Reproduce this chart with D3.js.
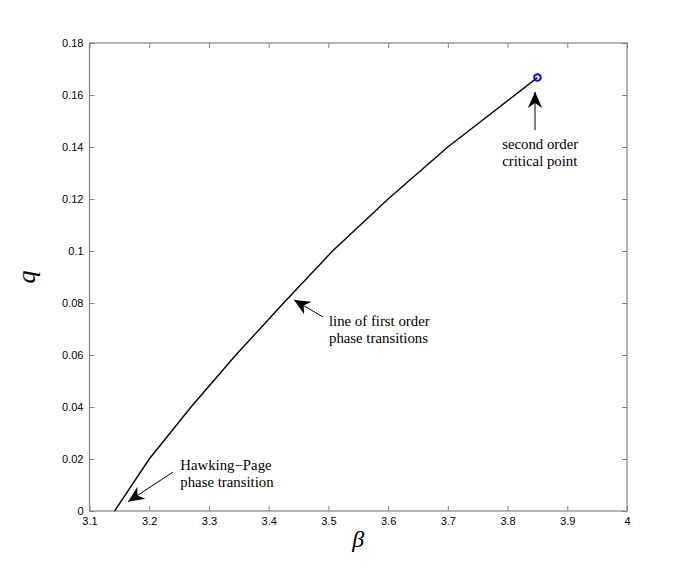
<!DOCTYPE html>
<html><head><meta charset="utf-8">
<script src="https://cdn.jsdelivr.net/npm/d3@7"></script>
<style>body{margin:0;background:#fff}</style>
</head><body>
<svg id="c" width="692" height="574"></svg>
<script>
const betaVals = [3.142, 3.2, 3.27, 3.345, 3.425, 3.507, 3.6, 3.7, 3.85];
const qVals    = [0, 0.02, 0.04, 0.06, 0.08, 0.1, 0.12, 0.14, 0.1667];
const critical = {beta: 3.85, q: 0.1667};
const xTicks = [3.1,3.2,3.3,3.4,3.5,3.6,3.7,3.8,3.9,4];
const xTickLabels = ["3.1","3.2","3.3","3.4","3.5","3.6","3.7","3.8","3.9","4"];
const yTicks = [0,0.02,0.04,0.06,0.08,0.1,0.12,0.14,0.16,0.18];
const yTickLabels = ["0","0.02","0.04","0.06","0.08","0.1","0.12","0.14","0.16","0.18"];
const annotations = [
  {lines:["Hawking\u2212Page","phase transition"], tx:3.252, tq:0.0158, from:[3.24,0.015], to:[3.1645,0.0036]},
  {lines:["line of first order","phase transitions"], tx:3.501, tq:0.071, from:[3.491,0.0746], to:[3.4425,0.0812]},
  {lines:["second order","critical point"], tx:3.791, tq:0.1392, from:[3.846,0.1465], to:[3.846,0.1612]}
];

const svg = d3.select("#c");
const L=89.5, R=627, T=43, B=511;
const x = d3.scaleLinear().domain([3.1,4]).range([L,R]);
const y = d3.scaleLinear().domain([0,0.18]).range([B,T]);
const axisCol = "#808080";

svg.append("defs").append("marker").attr("id","ah").attr("viewBox","0 0 10 10")
  .attr("refX",10).attr("refY",5).attr("markerWidth",16).attr("markerHeight",16)
  .attr("markerUnits","userSpaceOnUse").attr("orient","auto")
  .append("path").attr("d","M0,0.5 L10,5 L0,9.5 L3,5 Z").attr("fill","#000");

// frame
svg.append("rect").attr("x",L).attr("y",T).attr("width",R-L).attr("height",B-T)
  .attr("fill","none").attr("stroke",axisCol).attr("stroke-width",1.2);

const tickFont = "Liberation Sans, Arial, sans-serif";
const xb = svg.append("g").attr("transform",`translate(0,${B})`)
  .call(d3.axisBottom(x).tickValues(xTicks).tickFormat((d,i)=>xTickLabels[i]).tickSizeInner(-5).tickSizeOuter(0).tickPadding(6));
const xt = svg.append("g").attr("transform",`translate(0,${T})`)
  .call(d3.axisTop(x).tickValues(xTicks).tickFormat("").tickSizeInner(-5).tickSizeOuter(0));
const yl = svg.append("g").attr("transform",`translate(${L},0)`)
  .call(d3.axisLeft(y).tickValues(yTicks).tickFormat((d,i)=>yTickLabels[i]).tickSizeInner(-5).tickSizeOuter(0).tickPadding(6));
const yr = svg.append("g").attr("transform",`translate(${R},0)`)
  .call(d3.axisRight(y).tickValues(yTicks).tickFormat("").tickSizeInner(-5).tickSizeOuter(0));
[xb,xt,yl,yr].forEach(g=>{
  g.select(".domain").remove();
  g.selectAll("line").attr("stroke",axisCol);
  g.selectAll("text").attr("font-family",tickFont).attr("font-size",11).attr("fill","#000");
});

// curve
const pts = betaVals.map((b,i)=>[b,qVals[i]]);
svg.append("path").datum(pts)
  .attr("d", d3.line().x(d=>x(d[0])).y(d=>y(d[1])))
  .attr("fill","none").attr("stroke","#000").attr("stroke-width",1.4);

svg.append("circle").attr("cx",x(critical.beta)).attr("cy",y(critical.q)).attr("r",3.3)
  .attr("fill","none").attr("stroke","#0000ff").attr("stroke-width",1.9);

// annotations
const serif = "Liberation Serif, Times New Roman, serif";
annotations.forEach(a=>{
  const t = svg.append("text").attr("font-family",serif).attr("font-size",14.8).attr("fill","#000");
  a.lines.forEach((ln,i)=>t.append("tspan").attr("x",x(a.tx)).attr("y",y(a.tq)+i*17).text(ln));
  svg.append("line").attr("x1",x(a.from[0])).attr("y1",y(a.from[1]))
    .attr("x2",x(a.to[0])).attr("y2",y(a.to[1])).attr("stroke","#000").attr("stroke-width",1)
    .attr("marker-end","url(#ah)");
});

// axis labels
svg.append("text").attr("x",(L+R)/2).attr("y",547).attr("text-anchor","middle")
  .attr("font-family",serif).attr("font-style","italic").attr("font-size",24).text("\u03B2");
svg.append("text").attr("transform",`translate(35,${(T+B)/2}) rotate(-90)`).attr("text-anchor","middle")
  .attr("font-family",serif).attr("font-style","italic").attr("font-size",26).text("q");
</script>
</body></html>
